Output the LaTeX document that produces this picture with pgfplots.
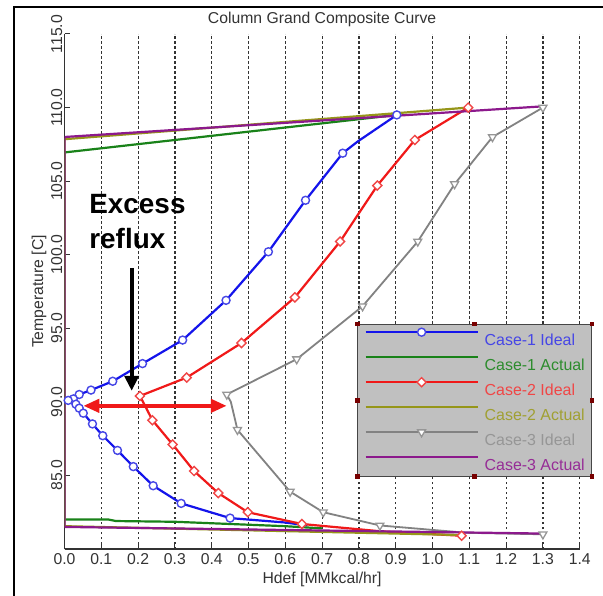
\documentclass[border=0pt]{standalone}
\usepackage{fontspec}
\setmainfont{Liberation Sans}
\usepackage{pgfplots}
\pgfplotsset{compat=1.18}
\usetikzlibrary{arrows.meta}
\definecolor{cbl}{RGB}{20,20,235}
\definecolor{cgr}{RGB}{25,130,25}
\definecolor{crd}{RGB}{240,25,25}
\definecolor{col}{RGB}{150,150,25}
\definecolor{cgy}{RGB}{130,130,130}
\definecolor{cpu}{RGB}{140,25,140}
\definecolor{tbl}{RGB}{70,70,230}
\definecolor{tgr}{RGB}{45,140,45}
\definecolor{trd}{RGB}{240,70,70}
\definecolor{tol}{RGB}{160,160,50}
\definecolor{tgy}{RGB}{150,150,150}
\definecolor{tpu}{RGB}{150,45,150}
\definecolor{lgbg}{RGB}{192,192,192}
\definecolor{lgbd}{RGB}{70,70,70}
\definecolor{hdl}{RGB}{120,0,0}
\begin{document}
\begin{tikzpicture}
\useasboundingbox (-64.5bp,-47bp) rectangle (538.5bp,549bp);
\fill[white] (-64.5bp,-47bp) rectangle (538.5bp,549bp);
\draw[black, line width=1.2bp] (-50.5bp,-60bp) -- (-50.5bp,542bp) -- (560bp,542bp);
\begin{axis}[
  at={(0,0)}, anchor=south west,
  scale only axis, width=515.2bp, height=515bp,
  xmin=0, xmax=1.4, ymin=80, ymax=115,
  xtick={0,0.1,0.2,0.3,0.4,0.5,0.6,0.7,0.8,0.9,1.0,1.1,1.2,1.3,1.4},
  ytick={80,85,90,95,100,105,110,115},
  yticklabels={,85.0,90.0,95.0,100.0,105.0,110.0,115.0},
  /pgf/number format/assume math mode=true,
  xticklabel style={/pgf/number format/fixed, /pgf/number format/fixed zerofill, /pgf/number format/precision=1, anchor=north, inner sep=0pt, yshift=-4.8bp, text=black!80, font=\fontsize{15.8}{18}\selectfont},
  yticklabel style={rotate=90, anchor=south, inner sep=0pt, inner ysep=2bp, text=black!80, font=\fontsize{15.8}{18}\selectfont},
  axis x line*=bottom, axis y line*=left,
  axis line style={-, line width=1.3bp, black!80},
  tick align=inside, major tick length=5bp,
  tick style={black!80, line width=1bp},
  xmajorgrids, grid style={dash pattern=on 2.5bp off 2.5bp, line width=1.2bp, black!80},
  every axis title/.style={at={(axis description cs:0.5,1)}, anchor=base, yshift=10.4bp, font=\fontsize{15.8}{18}\selectfont, text=black!80},
  title={Column Grand Composite Curve},
  every axis x label/.style={at={(axis description cs:0.5,0)}, anchor=base, yshift=-34bp, font=\fontsize{15.8}{18}\selectfont, text=black!80},
  xlabel={Hdef [MMkcal/hr]},
  every axis y label/.style={at={(axis description cs:0,0.5)}, xshift=-18bp, rotate=90, anchor=south, inner sep=0pt, font=\fontsize{15.8}{18}\selectfont, text=black!80},
  ylabel={Temperature [C]},
  legend style={name=leg, at={(rel axis cs:0.5683,0.4369)}, anchor=north west, fill=lgbg, draw=lgbd, line width=1bp, inner xsep=6.7bp, inner ysep=0.8bp, row sep=0pt, column sep=6bp, font=\fontsize{16}{18}\selectfont, nodes={inner sep=0pt, text height=20bp, text depth=5bp}, cells={anchor=west}},
  legend image code/.code={\path (0bp,0bp); \draw[#1,mark=none] (0bp,5.6bp) -- (112bp,5.6bp); \draw[#1] plot coordinates {(56bp,5.6bp)};},
]
% Case-1 Ideal
\addplot[cbl, line width=2.2bp, mark=*, mark size=4bp, mark options={fill=white, draw=tbl, line width=1.4bp, solid},
  mark indices={1,3,4,5,6,7,8,9,10,11,12,13,14,15,16,17,18,19,20,21,22,23}] coordinates {
(0.903,109.5) (0.797,107.7) (0.756,106.9) (0.655,103.7) (0.554,100.2) (0.439,96.9) (0.321,94.2) (0.212,92.6) (0.131,91.4) (0.072,90.8) (0.040,90.5) (0.024,90.2) (0.010,90.1) (0.031,89.84) (0.040,89.57) (0.051,89.23) (0.076,88.5) (0.104,87.7) (0.144,86.7) (0.187,85.6) (0.241,84.3) (0.317,83.1) (0.450,82.1) (0.60,81.8) (0.66,81.6)};
\addlegendentry{\textcolor{tbl}{Case-1 Ideal}}
% Case-1 Actual
\addplot[cgr, line width=2.2bp, mark=none] coordinates {
(0.903,109.5) (0,106.95) (0,82.0) (0.12,82.0) (0.14,81.9) (0.30,81.85) (0.45,81.7) (0.60,81.55) (0.70,81.4)};
\addlegendentry{\textcolor{tgr}{Case-1 Actual}}
% Case-2 Ideal
\addplot[crd, line width=2.2bp, mark=square*, mark size=3.2bp, mark options={fill=white, draw=trd, line width=1.4bp, solid, rotate=45},
  mark indices={1,2,3,4,5,6,7,8,9,10,11,12,13,14,16}] coordinates {
(1.097,110.0) (0.952,107.8) (0.850,104.7) (0.749,100.9) (0.626,97.1) (0.481,94.0) (0.332,91.65) (0.205,90.4) (0.239,88.75) (0.294,87.1) (0.352,85.3) (0.418,83.8) (0.498,82.5) (0.645,81.7) (0.86,81.2) (1.079,80.9)};
\addlegendentry{\textcolor{trd}{Case-2 Ideal}}
% Case-2 Actual
\addplot[col, line width=2.2bp, mark=none] coordinates {
(1.097,110.0) (0,107.85) (0,81.55) (1.079,80.95)};
\addlegendentry{\textcolor{tol}{Case-2 Actual}}
% Case-3 Ideal
\addplot[cgy, line width=1.8bp, mark=triangle*, mark size=4.6bp, mark options={fill=white, draw=tgy, line width=1.3bp, solid, rotate=180},
  mark indices={1,2,3,4,5,6,7,9,10,11,12,15}] coordinates {
(1.30,110.0) (1.163,108.0) (1.06,104.8) (0.96,100.9) (0.81,96.5) (0.631,92.9) (0.441,90.5) (0.452,90.0) (0.47,88.1) (0.613,83.9) (0.703,82.5) (0.857,81.6) (0.975,81.35) (1.093,81.1) (1.30,81.0)};
\addlegendentry{\textcolor{tgy}{Case-3 Ideal}}
% Case-3 Actual
\addplot[cpu, line width=2.2bp, mark=none] coordinates {
(1.31,110.1) (0,108.0) (0,81.5) (1.30,81.05)};
\addlegendentry{\textcolor{tpu}{Case-3 Actual}}
% annotations
\draw[crd, line width=4bp, {Triangle[width=13bp,length=16bp]}-{Triangle[width=13bp,length=16bp]}] (axis cs:0.051,89.73) -- (axis cs:0.441,89.73);
\draw[black, line width=4bp, -{Triangle[width=14bp,length=15bp]}] (axis cs:0.1825,99.1) -- (axis cs:0.1825,90.75);
\node[anchor=base west, inner sep=0pt, font=\bfseries\fontsize{28}{30}\selectfont] at (axis cs:0.067,102.8) {Excess};
\node[anchor=base west, inner sep=0pt, font=\bfseries\fontsize{28}{30}\selectfont] at (axis cs:0.067,100.45) {reflux};
\end{axis}
\foreach \a in {north west,north,north east,east,south east,south,south west,west}
  \fill[hdl] ([xshift=-2.4bp,yshift=-2.4bp]leg.\a) rectangle ([xshift=2.4bp,yshift=2.4bp]leg.\a);
\end{tikzpicture}
\end{document}
